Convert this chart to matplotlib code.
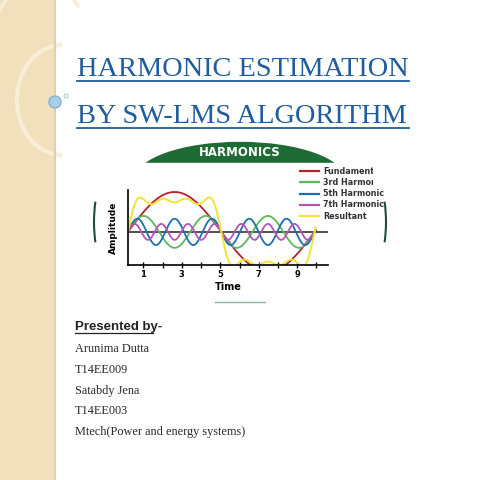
import numpy as np
import matplotlib.pyplot as plt
from matplotlib.patches import Rectangle, Ellipse, Circle, Arc

# slide text
title_lines = ["HARMONIC ESTIMATION", "BY SW-LMS ALGORITHM"]
presenter_head = "Presented by-"
presenter_lines = ["Arunima Dutta", "T14EE009", "Satabdy Jena", "T14EE003",
                   "Mtech(Power and energy systems)"]

# harmonic components (order, displayed amplitude)
series_names = ["Fundamental", "3rd Harmonic", "5th Harmonic", "7th Harmonic", "Resultant"]
series_colors = ["#b5202e", "#5cb85c", "#1f6fb0", "#b455b8", "#f2e23a"]
orders = [1, 3, 5, 7]
amplitudes = [1.0, 0.40, 0.33, 0.20]
result_weights = [0.98, 0.30, 0.18, 0.12]
period = 9.7
x_start = 0.2
tick_positions = [1, 2, 3, 4, 5, 6, 7, 8, 9, 10]
tick_labels = ["1", "", "3", "", "5", "", "7", "", "9", ""]

W = H = 480
fig = plt.figure(figsize=(4.8, 4.8), dpi=100)
bg = fig.add_axes([0, 0, 1, 1])
bg.set_xlim(0, W)
bg.set_ylim(H, 0)
bg.axis("off")

# left beige strip
bg.add_patch(Rectangle((0, 0), 53, H, color="#f1e0bb", zorder=0))
bg.plot([55, 55], [0, H], color="#dcc79d", lw=1.2)
bg.add_patch(Arc((62, 100), 90, 110, theta1=90, theta2=270, color="#f8edd6", lw=3))
bg.add_patch(Arc((40, 30), 90, 90, theta1=200, theta2=330, color="#f8edd6", lw=2.5))
bg.add_patch(Circle((55, 102), 6, color="#a9cfe6", ec="#7fb4d6", zorder=3))
bg.add_patch(Circle((66, 96), 2, fill=False, ec="#9bbfd8", lw=0.6, zorder=3))

# title
for i, line in enumerate(title_lines):
    y = 76 + i * 47
    bg.text(77, y, line, family="Liberation Serif", fontsize=20.4,
            color="#1f5d9e", ha="left", va="baseline")
    bg.plot([77, 409], [y + 5, y + 5], color="#1f5d9e", lw=1.3)

# green dome header
bg.add_patch(Ellipse((240, 180), 210, 75, color="#1f6b36", zorder=1))
bg.add_patch(Rectangle((120, 163), 240, 60, color="white", zorder=1.5))
bg.text(240, 153, "HARMONICS", color="white", fontsize=8.5, fontweight="bold",
        ha="center", va="center", zorder=2)
bg.add_patch(Arc((240, 222), 292, 292, theta1=172, theta2=188, color="#1f4f3a", lw=1.5))
bg.add_patch(Arc((240, 222), 292, 292, theta1=-8, theta2=8, color="#1f4f3a", lw=1.5))
bg.plot([215, 265], [302, 302], color="#8fb59a", lw=1)

# chart
ax = fig.add_axes([128 / W, 1 - 265 / H, 200 / W, 75 / H])
ax.patch.set_alpha(0)
x = np.linspace(x_start, 9.95, 600)
w = 2 * np.pi * (x - x_start) / period
for k, (n, a) in enumerate(zip(orders, amplitudes)):
    ax.plot(x, a * np.sin(n * w), color=series_colors[k], lw=1.3)
res = sum(b * np.sin(n * w) for n, b in zip(orders, result_weights))
ax.plot(x, res, color=series_colors[4], lw=1.4)
ax.axhline(0, color="#333333", lw=1.2, zorder=0)
ax.set_xlim(x_start, 10.6)
ax.set_ylim(-0.83, 1.05)
for s in ["top", "right"]:
    ax.spines[s].set_visible(False)
for s in ["left", "bottom"]:
    ax.spines[s].set_linewidth(1.2)
ax.set_xticks(tick_positions)
ax.set_xticklabels(tick_labels, fontsize=6, fontweight="bold")
ax.tick_params(axis="x", direction="inout", length=5, width=1, pad=1)
ax.set_yticks([])
ax.set_xlabel("Time", fontsize=7, fontweight="bold", labelpad=2)
ax.set_ylabel("Amplitude", fontsize=6.5, fontweight="bold", labelpad=7)

# legend, clipped at the image edge
clip = Rectangle((0, 0), 373, H, transform=bg.transData)
for k, name in enumerate(series_names):
    y = 171 + k * 11.3
    bg.plot([300, 319], [y, y], color=series_colors[k], lw=1.6)
    t = bg.text(323, y, name, fontsize=5.8, fontweight="bold", color="#333333",
                va="center", ha="left")
    if k < 2:
        t.set_clip_on(True)
        t.set_clip_path(clip)

# presenters
bg.text(75, 330, presenter_head, family="Liberation Sans", fontsize=9.5,
        fontweight="bold", color="#222222", va="baseline")
bg.plot([75, 153], [333, 333], color="#222222", lw=0.9)
for i, line in enumerate(presenter_lines):
    bg.text(75, 352 + i * 20.8, line, family="Liberation Serif", fontsize=8.8,
            color="#2a2a2a", va="baseline")

fig.savefig("out.png", dpi=100)
